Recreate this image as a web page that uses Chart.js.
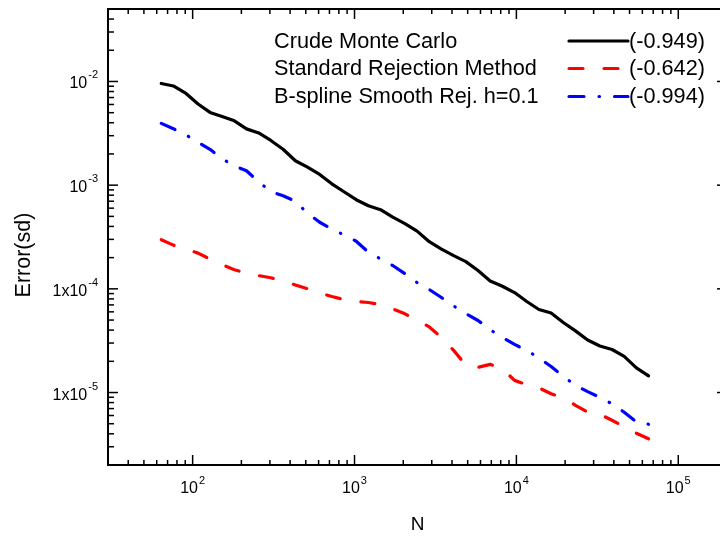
<!DOCTYPE html>
<html>
<head>
<meta charset="utf-8">
<script src="https://cdn.jsdelivr.net/npm/chart.js@4.4.1/dist/chart.umd.min.js"></script>
<style>
  html, body { margin: 0; padding: 0; background: #fff; overflow: hidden; }
  #wrap { width: 720px; height: 536px; overflow: hidden; }
</style>
</head>
<body>
<div id="wrap"><canvas id="myChart" width="740" height="536"></canvas></div>
<script>
// N values (sample sizes)
const sampleSizes = [64, 76, 91, 108, 128, 152, 181, 215, 256, 304, 362, 431, 512, 609, 724, 861,
  1024, 1218, 1448, 1722, 2048, 2435, 2896, 3444, 4096, 4871, 5793, 6889, 8192, 9742, 11585,
  13777, 16384, 19484, 23170, 27554, 32768, 38968, 46341, 55109, 65536];

const crudeMC = [0.00957, 0.00905, 0.00766, 0.00607, 0.00503, 0.00460, 0.00417, 0.00349, 0.00319,
  0.00270, 0.00222, 0.00172, 0.00149, 0.00127, 0.00103, 8.64e-4, 7.24e-4, 6.33e-4, 5.80e-4, 4.91e-4,
  4.25e-4, 3.60e-4, 2.85e-4, 2.42e-4, 2.09e-4, 1.83e-4, 1.50e-4, 1.19e-4, 1.06e-4, 9.21e-5, 7.55e-5,
  6.32e-5, 5.85e-5, 4.74e-5, 3.93e-5, 3.21e-5, 2.81e-5, 2.60e-5, 2.23e-5, 1.73e-5, 1.45e-5];

const stdRejection = [2.98e-4, 2.64e-4, 2.42e-4, 2.21e-4, 1.94e-4, 1.71e-4, 1.53e-4, 1.42e-4, 1.34e-4,
  1.28e-4, 1.19e-4, 1.09e-4, 1.00e-4, 9.11e-5, 8.43e-5, 7.89e-5, 7.55e-5, 7.38e-5, 7.06e-5, 6.42e-5,
  5.74e-5, 5.01e-5, 4.29e-5, 3.40e-5, 2.55e-5, 1.83e-5, 1.75e-5, 1.87e-5, 1.69e-5, 1.31e-5, 1.19e-5,
  1.11e-5, 9.72e-6, 8.89e-6, 7.53e-6, 6.48e-6, 6.17e-6, 5.40e-6, 4.68e-6, 4.05e-6, 3.58e-6];

const bsplineRej = [0.003944, 0.003505, 0.003056, 0.002587, 0.002216, 0.001795, 0.001537, 0.001376,
  0.001078, 8.64e-4, 7.91e-4, 7.00e-4, 5.36e-4, 4.39e-4, 3.78e-4, 3.31e-4, 2.88e-4, 2.26e-4, 1.94e-4,
  1.68e-4, 1.40e-4, 1.15e-4, 9.85e-5, 8.25e-5, 6.83e-5, 5.78e-5, 4.95e-5, 4.03e-5, 3.40e-5, 2.91e-5,
  2.55e-5, 2.15e-5, 1.78e-5, 1.43e-5, 1.17e-5, 1.02e-5, 8.99e-6, 7.78e-6, 6.45e-6, 5.22e-6, 4.94e-6];

const seriesNames = ['Crude Monte Carlo', 'Standard Rejection Method', 'B-spline Smooth Rej. h=0.1'];
const slopeLabels = ['(-0.949)', '(-0.642)', '(-0.994)'];

// tick labels: value, base text, exponent text
const xTickValues = [1e2, 1e3, 1e4, 1e5];
const xTickBase = ['10', '10', '10', '10'];
const xTickExp = ['2', '3', '4', '5'];
const yTickValues = [1e-2, 1e-3, 1e-4, 1e-5];
const yTickBase = ['10', '10', '1x10', '1x10'];
const yTickExp = ['-2', '-3', '-4', '-5'];

const FONT = '"Liberation Sans", Arial, Helvetica, sans-serif';

function toPoints(ys) {
  return sampleSizes.map((n, i) => ({ x: n, y: ys[i] }));
}

const framePlugin = {
  id: 'frame',
  afterDraw(chart) {
    const { ctx, chartArea: a, scales: { x, y } } = chart;
    ctx.save();
    ctx.strokeStyle = '#000';
    ctx.lineWidth = 2;
    ctx.strokeRect(a.left, a.top, a.right - a.left, a.bottom - a.top);

    ctx.lineWidth = 1.5;
    const seg = (x1, y1, x2, y2) => {
      ctx.beginPath(); ctx.moveTo(x1, y1); ctx.lineTo(x2, y2); ctx.stroke();
    };
    // x ticks, inward, bottom and top
    for (let d = 1; d <= 5; d++) {
      for (let k = 1; k <= 9; k++) {
        const v = k * Math.pow(10, d);
        if (v <= x.min || v >= x.max) continue;
        const px = x.getPixelForValue(v);
        const len = k === 1 ? 10 : 5;
        seg(px, a.bottom, px, a.bottom - len);
        seg(px, a.top, px, a.top + len);
      }
    }
    // y ticks, inward, left and right
    for (let d = -6; d <= -2; d++) {
      for (let k = 1; k <= 9; k++) {
        const v = k * Math.pow(10, d);
        if (v <= y.min * 1.001 || v >= y.max * 0.999) continue;
        const py = y.getPixelForValue(v);
        const len = k === 1 ? 10 : 6;
        seg(a.left, py, a.left + len, py);
        seg(a.right, py, a.right - len, py);
      }
    }

    // tick labels with superscripts
    ctx.fillStyle = '#000';
    ctx.textBaseline = 'alphabetic';
    xTickValues.forEach((v, i) => {
      const px = x.getPixelForValue(v);
      ctx.font = '16px ' + FONT;
      const wb = ctx.measureText(xTickBase[i]).width;
      ctx.font = '11px ' + FONT;
      const we = ctx.measureText(xTickExp[i]).width;
      const start = px - (wb + we + 1) / 2;
      ctx.font = '16px ' + FONT;
      ctx.textAlign = 'left';
      ctx.fillText(xTickBase[i], start, a.bottom + 28);
      ctx.font = '11px ' + FONT;
      ctx.fillText(xTickExp[i], start + wb + 1, a.bottom + 19);
    });
    yTickValues.forEach((v, i) => {
      const py = y.getPixelForValue(v);
      const right = a.left - 10;
      ctx.font = '11px ' + FONT;
      const we = ctx.measureText(yTickExp[i]).width;
      ctx.textAlign = 'left';
      ctx.fillText(yTickExp[i], right - we, py - 3);
      ctx.font = '16px ' + FONT;
      ctx.textAlign = 'right';
      ctx.fillText(yTickBase[i], right - we - 1, py + 7);
    });

    // axis titles
    ctx.font = '19px ' + FONT;
    ctx.textAlign = 'center';
    ctx.fillText('N', (a.left + a.right) / 2, 530);
    ctx.save();
    ctx.translate(30, (a.top + a.bottom) / 2 + 18);
    ctx.rotate(-Math.PI / 2);
    ctx.font = '21.5px ' + FONT;
    ctx.fillText('Error(sd)', 0, 0);
    ctx.restore();

    // legend
    const rowsY = [41, 68.5, 96.5];
    chart.data.datasets.forEach((ds, i) => {
      ctx.font = '21.7px ' + FONT;
      ctx.textAlign = 'left';
      ctx.textBaseline = 'middle';
      ctx.fillStyle = '#000';
      ctx.fillText(seriesNames[i], 274, rowsY[i] + 1);
      ctx.fillText(slopeLabels[i], 629, rowsY[i] + 1);
      ctx.strokeStyle = ds.borderColor;
      ctx.lineWidth = ds.borderWidth;
      ctx.lineCap = ds.borderCapStyle;
      ctx.setLineDash(ds.borderDash);
      ctx.lineDashOffset = 0;
      seg(569, rowsY[i], 628, rowsY[i]);
      ctx.setLineDash([]);
    });
    ctx.restore();
  }
};

const ctx = document.getElementById('myChart');
const myChart = new Chart(ctx, {
  type: 'line',
  data: {
    datasets: [{
      label: seriesNames[0],
      data: toPoints(crudeMC),
      borderColor: '#000000',
      borderWidth: 3.2,
      borderDash: [],
      borderCapStyle: 'round',
      borderJoinStyle: 'round'
    }, {
      label: seriesNames[1],
      data: toPoints(stdRejection),
      borderColor: '#ff0000',
      borderWidth: 3.2,
      borderDash: [14, 21],
      borderCapStyle: 'round',
      borderJoinStyle: 'round'
    }, {
      label: seriesNames[2],
      data: toPoints(bsplineRej),
      borderColor: '#0000ff',
      borderWidth: 3.2,
      borderDash: [15, 15, 0.5, 15],
      borderCapStyle: 'round',
      borderJoinStyle: 'round'
    }]
  },
  options: {
    responsive: false,
    animation: false,
    events: [],
    layout: { padding: { left: 108, top: 9, right: 13, bottom: 71 } },
    elements: { point: { radius: 0 }, line: { tension: 0, fill: false } },
    scales: {
      x: {
        type: 'logarithmic', min: 30, max: 2e5,
        grid: { display: false, drawTicks: false },
        border: { display: false },
        ticks: { display: false }
      },
      y: {
        type: 'logarithmic', min: 2e-6, max: 0.05,
        grid: { display: false, drawTicks: false },
        border: { display: false },
        ticks: { display: false }
      }
    },
    plugins: {
      legend: { display: false },
      tooltip: { enabled: false }
    }
  },
  plugins: [framePlugin]
});
</script>
</body>
</html>
